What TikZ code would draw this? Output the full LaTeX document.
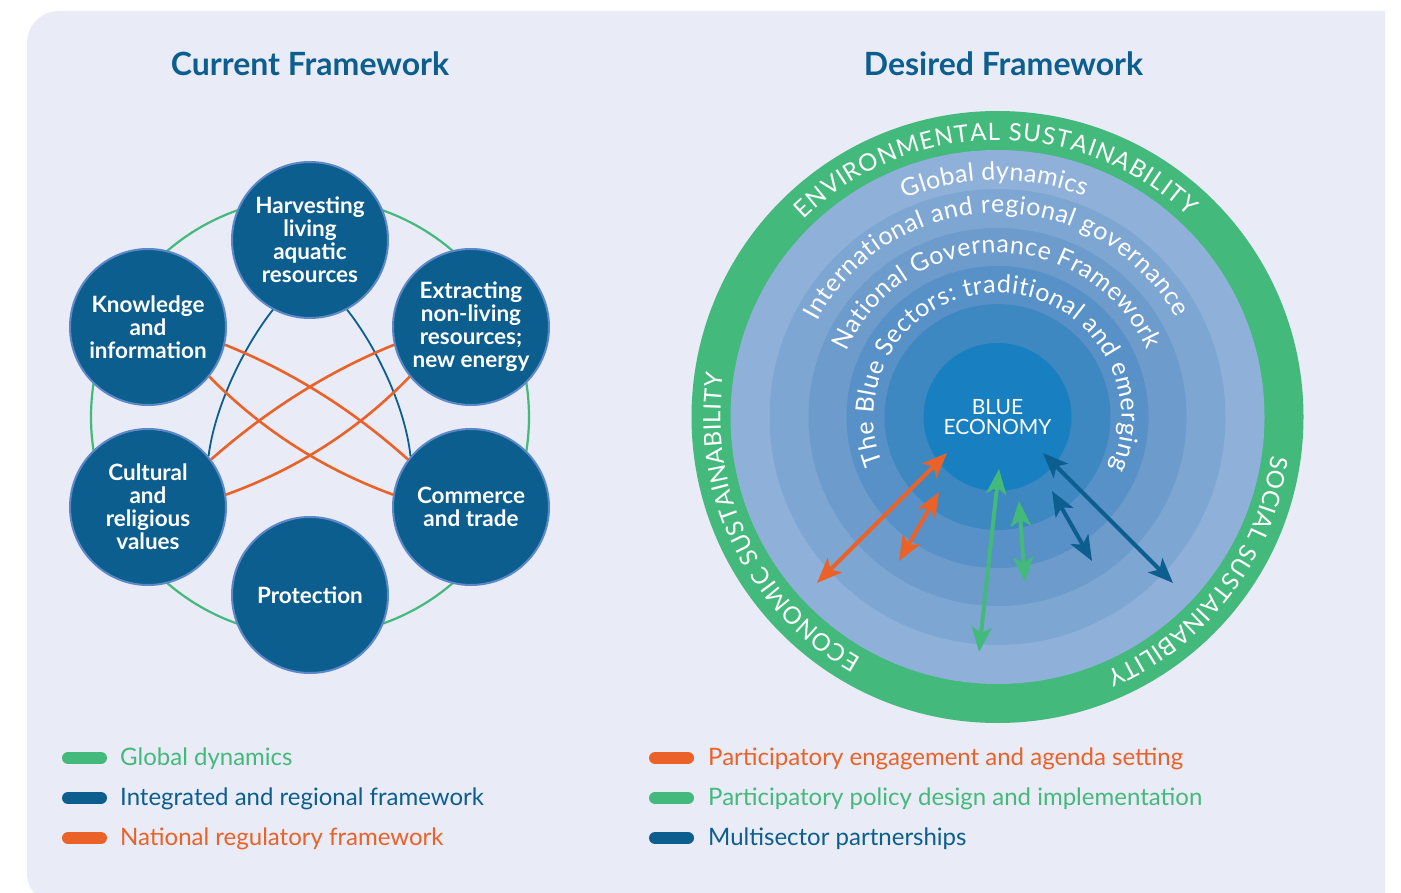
\documentclass[tikz,border=0pt]{standalone}
\usepackage{fontspec}
\setmainfont{Lato}
\usetikzlibrary{arrows.meta,decorations.text}

\definecolor{panel}{HTML}{E9EBF6}
\definecolor{navy}{HTML}{0B5E8E}
\definecolor{nodeedge}{HTML}{5C88C8}
\definecolor{leaf}{HTML}{43B97B}
\definecolor{rust}{HTML}{EA6228}
\definecolor{ringA}{HTML}{8FB1D9}
\definecolor{ringB}{HTML}{7EA6D3}
\definecolor{ringC}{HTML}{6C9BCC}
\definecolor{ringD}{HTML}{5891C7}
\definecolor{ringE}{HTML}{3E88C2}
\definecolor{core}{HTML}{1880C1}

\newcommand\setfs[2]{\fontsize{#1}{#2}\selectfont}

\tikzset{
  title/.style={text=navy, font=\bfseries\setfs{32}{34}},
  topic/.style={circle, draw=nodeedge, line width=2pt, fill=navy, minimum size=156pt,
    inner sep=0pt, align=center, text=white, font=\bfseries\setfs{22.5}{23}},
  tie/.style={navy, line width=1.8pt},
  cross/.style={rust, line width=2.6pt},
  twoway/.style={line width=4pt,
    {Stealth[length=25pt,width=20pt,inset=6pt]}-{Stealth[length=25pt,width=20pt,inset=6pt]}},
  pill/.style={line width=12pt, line cap=round},
  keytext/.style={anchor=west, inner sep=0pt, font=\setfs{24}{26}},
  ringtext/.style={decorate, decoration={text along path, text align={fit to path},
    text color=white, text={#1}}},
}

\begin{document}
\begin{tikzpicture}[x=1pt, y=1pt]
\useasboundingbox (0,0) rectangle (1401,-893);
\clip (0,0) rectangle (1401,-893);

% background panel, rounded on the left
\fill[panel] (1385,-11) -- (59,-11) arc[start angle=90, end angle=180, radius=32]
  -- (27,-873) arc[start angle=180, end angle=270, radius=32] -- (1385,-905) -- cycle;

% ---------------- current framework ----------------
\node[title] (curtitle) at (310,-64) {Current Framework};

\draw[leaf, line width=2.2pt] (310,-417) circle[radius=219];

\node[topic] (harv) at (310,-240) {Harvesting\\living\\aquatic\\resources};
\node[topic] (know) at (148,-327) {Knowledge\\and\\information};
\node[topic] (extr) at (471,-327) {Extracting\\non-living\\resources;\\new energy};
\node[topic] (cult) at (148,-507) {Cultural\\and\\religious\\values};
\node[topic] (comm) at (471,-507) {Commerce\\and trade};
\node[topic] (prot) at (310,-595) {Protection};

% links between the sectors
\draw[tie] (harv.-118) .. controls (245,-345) and (215,-405) .. (cult.40);
\draw[tie] (harv.-62) .. controls (375,-345) and (405,-405) .. (comm.140);
\draw[cross] (know.-13) .. controls (293,-372) and (354,-411) .. (comm.143);
\draw[cross] (know.-39) .. controls (262,-430) and (323,-469) .. (comm.171);
\draw[cross] (extr.193) .. controls (327,-372) and (266,-411) .. (cult.37);
\draw[cross] (extr.219) .. controls (358,-430) and (297,-469) .. (cult.9);

% ---------------- desired framework ----------------
\node[title] (destitle) at (1003.5,-64) {Desired Framework};

\coordinate (c) at (997.5,-417);
\fill[leaf]  (c) circle[radius=306];
\fill[ringA] (c) circle[radius=267];
\fill[ringB] (c) circle[radius=228];
\fill[ringC] (c) circle[radius=189];
\fill[ringD] (c) circle[radius=151];
\fill[ringE] (c) circle[radius=113];
\node[circle, fill=core, minimum size=148pt, inner sep=0pt, align=center,
  text=white, font=\setfs{21}{20}] (blue) at (c) {BLUE\\ECONOMY};

% ring captions, read clockwise with letters facing out
\path[ringtext={|\setfs{24}{24}|ENVIRONMENTAL SUSTAINABILITY}]
  (c) ++(134.5:277) arc[start angle=134.5, end angle=46.5, radius=277];
\path[ringtext={|\setfs{24}{24}|ECONOMIC SUSTAINABILITY}]
  (c) ++(240.5:277) arc[start angle=240.5, end angle=171, radius=277];
\path[ringtext={|\setfs{24}{24}|SOCIAL SUSTAINABILITY}]
  (c) ++(-8:277) arc[start angle=-8, end angle=-67, radius=277];
\path[ringtext={|\setfs{25}{25}|Global dynamics}]
  (c) ++(113:237) arc[start angle=113, end angle=68.5, radius=237];
\path[ringtext={|\setfs{25}{25}|International and regional governance}]
  (c) ++(152:204) arc[start angle=152, end angle=29, radius=204];
\path[ringtext={|\setfs{25}{25}|National Governance Framework}]
  (c) ++(156.5:164) arc[start angle=156.5, end angle=24, radius=164];
\path[ringtext={|\setfs{25}{25}|The Blue Sectors: traditional and emerging}]
  (c) ++(202:124) arc[start angle=202, end angle=-24.5, radius=124];

% arrows between the rings
\coordinate (oa1) at (947,-453);  \coordinate (oa2) at (817,-583);
\coordinate (ob1) at (939,-492);  \coordinate (ob2) at (899,-561);
\coordinate (ga1) at (999,-469);  \coordinate (ga2) at (979,-652);
\coordinate (gb1) at (1019,-501); \coordinate (gb2) at (1025,-582);
\coordinate (ba1) at (1052,-491); \coordinate (ba2) at (1092,-561);
\coordinate (bb1) at (1043,-453); \coordinate (bb2) at (1173,-583);
\draw[twoway, rust] (oa1) -- (oa2);
\draw[twoway, rust] (ob1) -- (ob2);
\draw[twoway, leaf] (ga1) -- (ga2);
\draw[twoway, leaf] (gb1) -- (gb2);
\draw[twoway, navy] (ba1) -- (ba2);
\draw[twoway, navy] (bb1) -- (bb2);

% ---------------- legend ----------------
\draw[pill, leaf] (68,-758) -- (101,-758);
\draw[pill, navy] (68,-798) -- (101,-798);
\draw[pill, rust] (68,-838) -- (101,-838);
\node[keytext, text=leaf] (k1) at (120,-759) {Global dynamics};
\node[keytext, text=navy] (k2) at (120,-799) {Integrated and regional framework};
\node[keytext, text=rust] (k3) at (120,-839) {National regulatory framework};

\draw[pill, rust] (655,-758) -- (688,-758);
\draw[pill, leaf] (655,-798) -- (688,-798);
\draw[pill, navy] (655,-838) -- (688,-838);
\node[keytext, text=rust] (k4) at (708,-759) {Participatory engagement and agenda setting};
\node[keytext, text=leaf] (k5) at (708,-799) {Participatory policy design and implementation};
\node[keytext, text=navy] (k6) at (708,-839) {Multisector partnerships};
\end{tikzpicture}
\end{document}
